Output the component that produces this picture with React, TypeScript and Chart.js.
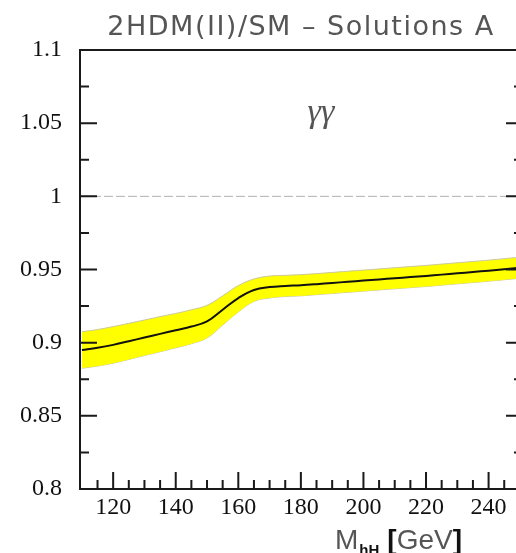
import React, { useEffect, useRef } from "react";
import { Chart, registerables } from "chart.js";

Chart.register(...registerables);

// ---- data ----
const masses = [110, 115, 120, 125, 130, 135, 140, 145, 150, 155, 160, 165, 170, 175, 180, 185, 190, 195, 200, 205, 210, 215, 220, 225, 230, 235, 240, 245, 250];
const ratioCentral = [0.895, 0.8965, 0.8985, 0.901, 0.9035, 0.906, 0.9085, 0.911, 0.9145, 0.9225, 0.9305, 0.936, 0.938, 0.9388, 0.9393, 0.94, 0.9408, 0.9416, 0.9424, 0.9432, 0.944, 0.9448, 0.9456, 0.9465, 0.9474, 0.9483, 0.9492, 0.9502, 0.9512];
const ratioUpper = [0.9075, 0.909, 0.911, 0.9132, 0.9155, 0.9178, 0.92, 0.9225, 0.9255, 0.932, 0.939, 0.9435, 0.9455, 0.946, 0.9465, 0.9472, 0.948, 0.9488, 0.9496, 0.9504, 0.9512, 0.952, 0.9528, 0.9537, 0.9546, 0.9555, 0.9564, 0.9574, 0.9584];
const ratioLower = [0.8825, 0.884, 0.886, 0.8885, 0.8912, 0.8938, 0.8965, 0.8993, 0.9032, 0.912, 0.921, 0.9282, 0.9305, 0.9315, 0.932, 0.9328, 0.9336, 0.9344, 0.9352, 0.936, 0.9368, 0.9376, 0.9384, 0.9393, 0.9402, 0.9411, 0.942, 0.943, 0.944];

const xMajorTicks = [120, 140, 160, 180, 200, 220, 240];
const xMinorTicks = [115, 125, 130, 135, 145, 150, 155, 165, 170, 175, 185, 190, 195, 205, 210, 215, 225, 230, 235, 245, 250];
const yMajorTicks = [0.8, 0.85, 0.9, 0.95, 1.0, 1.05, 1.1];
const yMinorTicks = [0.825, 0.875, 0.925, 0.975, 1.025, 1.075];
const yTickLabels = ["0.8", "0.85", "0.9", "0.95", "1", "1.05", "1.1"];

const titleText = "2HDM(II)/SM \u2013 Solutions A";
const channelLabel = "\u03b3\u03b3";
const referenceLine = 1.0;

const toPts = (ys: number[]) => masses.map((m, i) => ({ x: m, y: ys[i] }));

const decorPlugin = {
  id: "decor",
  beforeDatasetsDraw(chart: any) {
    const { ctx, chartArea: a, scales } = chart;
    const yy = scales.y.getPixelForValue(referenceLine);
    ctx.save();
    ctx.strokeStyle = "#b0b0b0";
    ctx.lineWidth = 1;
    ctx.setLineDash([9, 3]);
    ctx.beginPath();
    ctx.moveTo(a.left, yy);
    ctx.lineTo(a.right, yy);
    ctx.stroke();
    ctx.restore();
  },
  afterDatasetsDraw(chart: any) {
    const { ctx, chartArea: a, scales } = chart;
    const { x, y } = scales;
    ctx.save();
    ctx.strokeStyle = "#1a1a1a";
    ctx.lineWidth = 2;
    ctx.strokeRect(a.left, a.top, a.right - a.left, a.bottom - a.top);
    const major = 17;
    const minor = 9;
    ctx.beginPath();
    yMajorTicks.forEach((v) => {
      const p = y.getPixelForValue(v);
      ctx.moveTo(a.left, p); ctx.lineTo(a.left + major, p);
      ctx.moveTo(a.right, p); ctx.lineTo(a.right - major, p);
    });
    yMinorTicks.forEach((v) => {
      const p = y.getPixelForValue(v);
      ctx.moveTo(a.left, p); ctx.lineTo(a.left + minor, p);
      ctx.moveTo(a.right, p); ctx.lineTo(a.right - minor, p);
    });
    xMajorTicks.forEach((v) => {
      const p = x.getPixelForValue(v);
      ctx.moveTo(p, a.bottom); ctx.lineTo(p, a.bottom - major);
    });
    xMinorTicks.forEach((v) => {
      const p = x.getPixelForValue(v);
      ctx.moveTo(p, a.bottom); ctx.lineTo(p, a.bottom - minor);
    });
    ctx.stroke();

    // title
    ctx.fillStyle = "#555";
    ctx.font = "27px 'DejaVu Sans'";
    ctx.textAlign = "center";
    ctx.textBaseline = "alphabetic";
    try { (ctx as any).letterSpacing = "1.5px"; } catch (e) {}
    ctx.fillText(titleText, 301, 35);
    try { (ctx as any).letterSpacing = "0px"; } catch (e) {}

    // channel label
    ctx.font = "italic 34px 'Liberation Serif'";
    ctx.fillStyle = "#555";
    ctx.textBaseline = "middle";
    ctx.fillText(channelLabel, x.getPixelForValue(186.4), y.getPixelForValue(1.0569));

    // axis title
    ctx.textAlign = "left";
    ctx.textBaseline = "alphabetic";
    let cx = 335;
    const base = 549;
    ctx.font = "28px 'Liberation Sans Narrow', 'Liberation Sans'";
    ctx.fillStyle = "#555";
    ctx.fillText("M", cx, base);
    cx += ctx.measureText("M").width + 1;
    ctx.font = "bold 15px 'Liberation Sans'";
    ctx.fillStyle = "#111";
    ctx.fillText("hH", cx, base + 6);
    cx += ctx.measureText("hH").width + 8;
    ctx.font = "bold 28px 'Liberation Sans'";
    ctx.fillText("[", cx, base);
    cx += ctx.measureText("[").width;
    ctx.font = "28px 'Liberation Sans'";
    ctx.fillStyle = "#555";
    ctx.fillText("GeV", cx, base);
    cx += ctx.measureText("GeV").width;
    ctx.font = "bold 28px 'Liberation Sans'";
    ctx.fillStyle = "#111";
    ctx.fillText("]", cx, base);
    ctx.restore();
  },
};

export default function App() {
  const ref = useRef<HTMLCanvasElement>(null);
  useEffect(() => {
    if (!ref.current) return;
    const chart = new Chart(ref.current, {
      type: "line",
      data: {
        datasets: [
          {
            data: toPts(ratioLower),
            borderColor: "#c8c8a0",
            borderWidth: 1,
            pointRadius: 0,
            fill: false,
            order: 2,
            tension: 0.4,
          },
          {
            data: toPts(ratioUpper),
            borderColor: "#c8c8a0",
            borderWidth: 1,
            pointRadius: 0,
            backgroundColor: "#ffff00",
            fill: "-1",
            order: 1,
            tension: 0.4,
          },
          {
            data: toPts(ratioCentral),
            borderColor: "#111",
            borderWidth: 2,
            pointRadius: 0,
            fill: false,
            order: 0,
            tension: 0.4,
          },
        ],
      },
      options: {
        responsive: false,
        animation: false,
        devicePixelRatio: 1,
        layout: { padding: { left: 0, right: 7, top: 50, bottom: 0 } },
        plugins: { legend: { display: false }, tooltip: { enabled: false }, title: { display: false } },
        scales: {
          x: {
            type: "linear",
            min: 109.4,
            max: 251,
            grid: { display: false, drawTicks: false },
            border: { display: false },
            afterFit: (s: any) => { s.height = 64; },
            afterBuildTicks: (s: any) => { s.ticks = xMajorTicks.map((v) => ({ value: v })); },
            ticks: {
              padding: 4,
              color: "#111",
              font: { family: "'Liberation Serif'", size: 24 },
              maxRotation: 0,
              autoSkip: false,
            },
          },
          y: {
            type: "linear",
            min: 0.8,
            max: 1.1,
            grid: { display: false, drawTicks: false },
            border: { display: false },
            afterFit: (s: any) => { s.width = 80; },
            afterBuildTicks: (s: any) => { s.ticks = yMajorTicks.map((v) => ({ value: v })); },
            ticks: {
              padding: 18,
              color: "#111",
              font: { family: "'Liberation Serif'", size: 24 },
              autoSkip: false,
              callback: (v: any) => {
                const i = yMajorTicks.findIndex((t) => Math.abs(t - Number(v)) < 1e-6);
                return i >= 0 ? yTickLabels[i] : "";
              },
            },
          },
        },
      },
      plugins: [decorPlugin],
    } as any);
    return () => chart.destroy();
  }, []);
  return (
    <div style={{ position: "fixed", left: 0, top: 0, width: 516, height: 553, overflow: "hidden", background: "#fff" }}>
      <canvas ref={ref} width={530} height={553} style={{ display: "block", width: 530, height: 553 }} />
    </div>
  );
}
